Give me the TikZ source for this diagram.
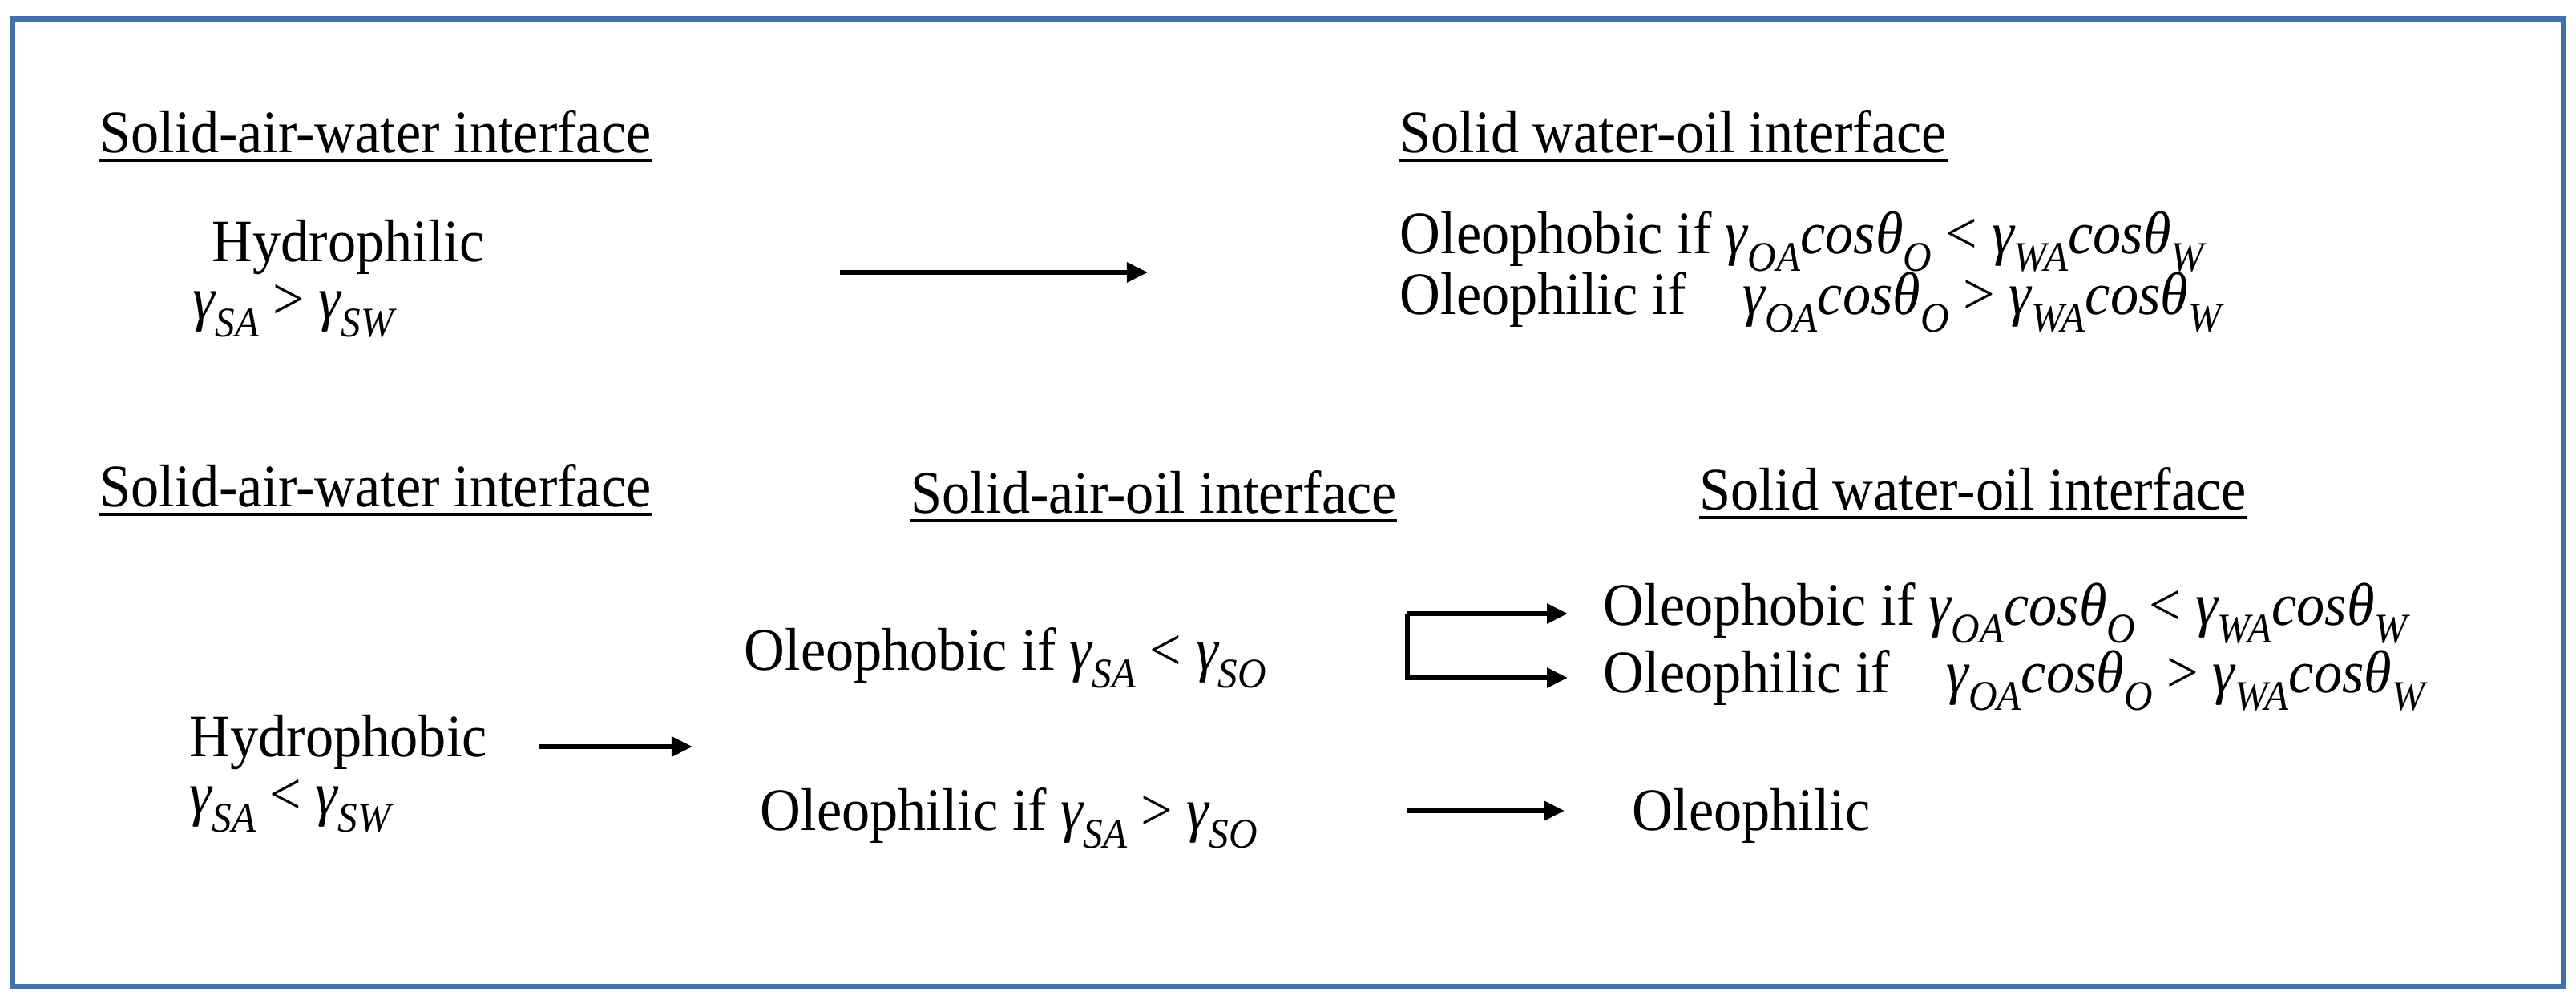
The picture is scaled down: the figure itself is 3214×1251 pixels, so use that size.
\documentclass[tikz,border=0pt]{standalone}
\usepackage{graphicx}
\usepackage{fontspec}
\setmainfont{Liberation Serif}
\usetikzlibrary{arrows.meta}
\definecolor{framecol}{RGB}{66,113,168}
\newcommand\sbx[1]{\raisebox{-0.3em}{\fontsize{14}{14}\selectfont\itshape #1}}
\newcommand\gam[1]{{\itshape γ}\sbx{#1}}
\newcommand\cth[1]{{\itshape cosθ}\sbx{#1}}
\newcommand\tall[1]{\scalebox{1}[1.07]{#1}}
\begin{document}
\begin{tikzpicture}[x=0.01cm,y=-0.01cm,
  txt/.style={anchor=base west,inner sep=0pt,font=\fontsize{20}{24}\selectfont},
  arr/.style={line width=1.7pt,-{Triangle[length=0.26cm,width=0.24cm]}},
  ulin/.style={line width=1.1pt}]
\useasboundingbox (0,0) rectangle (3214,1251);
\draw[framecol,line width=1.8pt] (16,23.5) rectangle (3198.5,1231);

% top row
\node[txt] (h1) at (124,190) {\tall{Solid-air-water interface}};
\node[txt] (hphil) at (264,326) {\tall{Hydrophilic}};
\node[txt] (g1) at (240,398) {\tall{\gam{SA} > \gam{SW}}};
\node[txt] (h2) at (1746,190) {\tall{Solid water-oil interface}};
\node[txt] (o1) at (1746,316) {\tall{Oleophobic if \gam{OA}\cth{O} < \gam{WA}\cth{W}}};
\node[txt] (o2) at (1746,392) {\tall{Oleophilic if\hspace{0.75em} \gam{OA}\cth{O} > \gam{WA}\cth{W}}};
\coordinate (a1s) at (1048,340);
\coordinate (a1e) at (1432,340);
\draw[arr] (a1s) -- (a1e);

% bottom row
\node[txt] (h3) at (124,632) {\tall{Solid-air-water interface}};
\node[txt] (h4) at (1136,640) {\tall{Solid-air-oil interface}};
\node[txt] (h5) at (2120,636) {\tall{Solid water-oil interface}};
\node[txt] (o3) at (2000,780) {\tall{Oleophobic if \gam{OA}\cth{O} < \gam{WA}\cth{W}}};
\node[txt] (o4) at (2000,864) {\tall{Oleophilic if\hspace{0.75em} \gam{OA}\cth{O} > \gam{WA}\cth{W}}};
\node[txt] (hp) at (928,836) {\tall{Oleophobic if \gam{SA} < \gam{SO}}};
\node[txt] (hb) at (236,944) {\tall{Hydrophobic}};
\node[txt] (g2) at (236,1016) {\tall{\gam{SA} < \gam{SW}}};
\node[txt] (ol) at (948,1036) {\tall{Oleophilic if \gam{SA} > \gam{SO}}};
\node[txt] (olp) at (2036,1036) {\tall{Oleophilic}};

\foreach \n in {h1,h2,h3,h4,h5}
  \draw[ulin] ([yshift=-2.9pt]\n.base west) -- ([yshift=-2.9pt]\n.base east);

\coordinate (a2s) at (672,932);
\coordinate (a2e) at (864,932);
\draw[arr] (a2s) -- (a2e);
\coordinate (bru) at (1756,766);
\coordinate (tipu) at (1956,766);
\coordinate (tipl) at (1956,846);
\draw[arr] (bru) -- (tipu);
\draw[arr] (bru) |- (tipl);
\coordinate (a3s) at (1756,1012);
\coordinate (a3e) at (1952,1012);
\draw[arr] (a3s) -- (a3e);
\end{tikzpicture}
\end{document}
